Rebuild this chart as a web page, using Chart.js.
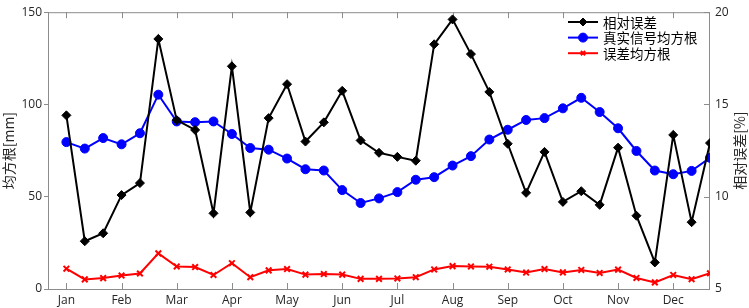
<!DOCTYPE html>
<html><head><meta charset="utf-8">
<script src="https://cdn.jsdelivr.net/npm/chart.js@4"></script>
<style>html,body{margin:0;padding:0;background:#fff;overflow:hidden}</style>
</head><body>
<canvas id="c" width="749" height="308" style="width:749px;height:308px;display:block"></canvas>
<script>
const months = ['Jan','Feb','Mar','Apr','May','Jun','Jul','Aug','Sep','Oct','Nov','Dec'];
const monthTickPositions = [0,3,6,9,12,15,18,21,24,27,30,33];
const leftTicks = [0,50,100,150];
const rightTicks = [5,10,15,20];
const seriesNames = ['相对误差','真实信号均方根','误差均方根'];
// 相对误差 [%] (right axis)
const relErr = [14.41,7.59,8.02,10.09,10.74,18.55,14.15,13.62,9.10,17.07,9.15,14.26,
                16.10,12.99,14.03,15.74,13.05,12.38,12.16,11.95,18.26,19.61,17.73,15.68,
                12.87,10.21,12.43,9.72,10.30,9.56,12.66,8.97,6.44,13.35,8.62,12.91];
// 真实信号均方根 [mm] (left axis)
const signalRms = [79.6,76.1,81.8,78.4,84.4,105.3,90.8,90.4,90.8,84.0,76.4,75.5,
                   70.7,64.9,64.2,53.6,46.6,49.1,52.5,59.2,60.6,66.9,72.0,81.0,
                   86.3,91.6,92.6,97.9,103.6,95.9,87.1,74.8,64.2,62.2,64.0,71.1];
// 误差均方根 [mm] (left axis)
const errRms = [11.0,5.2,5.9,7.3,8.4,19.3,12.2,11.9,7.6,14.0,6.4,10.1,
                10.8,7.8,8.1,7.8,5.5,5.5,5.7,6.4,10.6,12.4,12.2,12.1,
                10.6,8.9,10.8,9.0,10.3,8.7,10.5,6.0,3.6,7.6,5.3,8.5];

const toXY = arr => arr.map((v,i)=>({x:i,y:v}));
const tickFont = {family:'"Open Sans", "Noto Sans", sans-serif', size:12};
const cjk = '"Noto Sans CJK SC", sans-serif';
const axisGray = '#8c8c8c';

const framePlugin = {
  id:'frame',
  beforeDatasetsDraw(chart){
    const {ctx, chartArea:a, scales} = chart;
    ctx.save();
    ctx.strokeStyle = axisGray; ctx.lineWidth = 1;
    ctx.strokeRect(a.left+0.5, a.top+0.5, a.right-a.left-1, a.bottom-a.top);
    ctx.beginPath();
    for (const v of monthTickPositions){
      const x = Math.round(scales.x.getPixelForValue(v))+0.5;
      ctx.moveTo(x,a.bottom); ctx.lineTo(x,a.bottom-6);
      ctx.moveTo(x,a.top); ctx.lineTo(x,a.top+6);
    }
    for (const v of rightTicks){
      const y = Math.round(scales.y2.getPixelForValue(v))+0.5;
      ctx.moveTo(a.right,y); ctx.lineTo(a.right-6,y);
    }
    ctx.stroke();
    // axis titles
    ctx.fillStyle = '#262626';
    ctx.font = '14px ' + cjk;
    ctx.textAlign = 'center'; ctx.textBaseline = 'middle';
    const cy = (a.top + a.bottom)/2;
    ctx.save(); ctx.translate(9, cy); ctx.rotate(-Math.PI/2); ctx.fillText('均方根[mm]',0,0); ctx.restore();
    ctx.save(); ctx.translate(740, cy); ctx.rotate(-Math.PI/2); ctx.fillText('相对误差[%]',0,0); ctx.restore();
    ctx.restore();
  },
  afterDatasetsDraw(chart){
    const {ctx} = chart;
    ctx.save();
    chart.data.datasets.forEach((ds,i)=>{
      const y = 22 + i*15.6;
      ctx.strokeStyle = ds.borderColor; ctx.lineWidth = 2;
      ctx.beginPath(); ctx.moveTo(568,y); ctx.lineTo(598,y); ctx.stroke();
      ctx.fillStyle = ds.pointBackgroundColor; ctx.strokeStyle = ds.pointBorderColor;
      ctx.lineWidth = ds.pointBorderWidth;
      Chart.helpers.drawPoint(ctx, {pointStyle: ds.pointStyle, rotation:0, radius: ds.legendRadius, borderWidth: ds.pointBorderWidth}, 583, y);
      ctx.fillStyle = '#000';
      ctx.font = '13.5px ' + cjk;
      ctx.textAlign = 'left'; ctx.textBaseline = 'middle';
      ctx.fillText(ds.label, 603, y+0.5);
    });
    ctx.restore();
  }
};

new Chart(document.getElementById('c'), {
  type:'line',
  data:{datasets:[
    {label:seriesNames[0], data:toXY(relErr), yAxisID:'y2', borderColor:'#000000', borderWidth:2,
     pointStyle:'rectRot', pointRadius:4.5, pointBackgroundColor:'#000000', pointBorderColor:'#000000', pointBorderWidth:1, legendRadius:4},
    {label:seriesNames[1], data:toXY(signalRms), yAxisID:'y', borderColor:'#0000ff', borderWidth:2,
     pointStyle:'circle', pointRadius:4.5, pointBackgroundColor:'#0000ff', pointBorderColor:'#0000ff', pointBorderWidth:1, legendRadius:4.5},
    {label:seriesNames[2], data:toXY(errRms), yAxisID:'y', borderColor:'#ff0000', borderWidth:2,
     pointStyle:'crossRot', pointRadius:4, pointBackgroundColor:'#ff0000', pointBorderColor:'#ff0000', pointBorderWidth:2, legendRadius:3}
  ]},
  options:{
    responsive:false, animation:false, devicePixelRatio:1,
    layout:{padding:{top:6,left:0,right:0,bottom:0}},
    plugins:{legend:{display:false}, tooltip:{enabled:false}, title:{display:false}},
    elements:{line:{tension:0}},
    scales:{
      x:{type:'linear', min:-1, max:35,
         afterBuildTicks(s){ s.ticks = monthTickPositions.map(v=>({value:v})); },
         afterFit(s){ s.height = 19; },
         grid:{display:true, drawOnChartArea:false, drawTicks:false},
         border:{display:false},
         ticks:{font:tickFont, color:'#262626', padding:4, maxRotation:0, autoSkip:false,
                callback:(v)=>{ const k = monthTickPositions.indexOf(v); return k>=0 ? months[k] : ''; }}},
      y:{type:'linear', position:'left', min:0, max:150,
         afterBuildTicks(s){ s.ticks = leftTicks.map(v=>({value:v})); },
         afterFit(s){ s.width = 48; },
         grid:{display:true, drawOnChartArea:false, drawTicks:true, tickLength:4, color:axisGray},
         border:{display:true, color:axisGray},
         ticks:{font:tickFont, color:'#262626', padding:2}},
      y2:{type:'linear', position:'right', min:5, max:20,
         afterBuildTicks(s){ s.ticks = rightTicks.map(v=>({value:v})); },
         afterFit(s){ s.width = 39; },
         grid:{display:true, drawOnChartArea:false, drawTicks:false},
         border:{display:false},
         ticks:{font:tickFont, color:'#262626', padding:5}}
    }
  },
  plugins:[framePlugin]
});
</script>
</body></html>
